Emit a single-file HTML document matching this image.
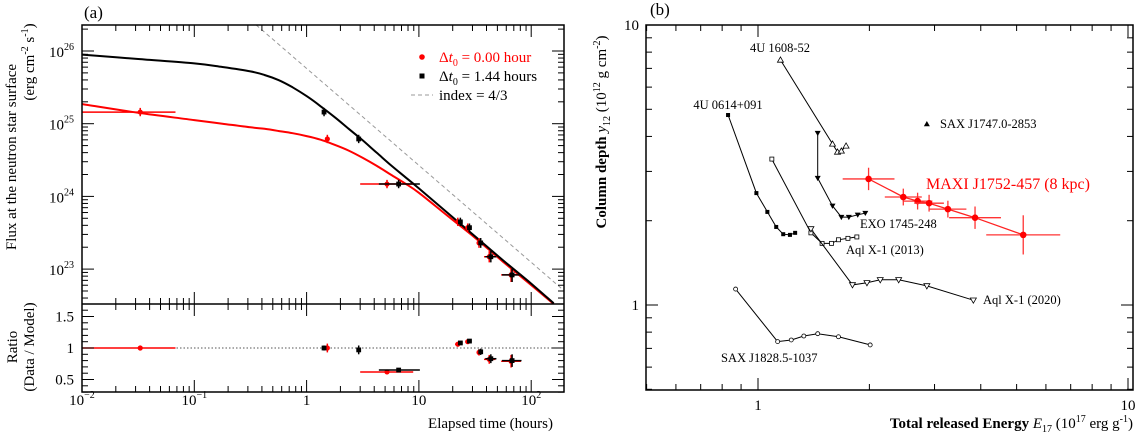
<!DOCTYPE html>
<html><head><meta charset="utf-8"><style>
html,body{margin:0;padding:0;background:#fff;}
svg, svg text{font-family:"Liberation Serif","DejaVu Serif",serif;}
svg{display:block;}
</style></head><body>
<svg id="fig" width="1140" height="435" viewBox="0 0 1140 435" xmlns="http://www.w3.org/2000/svg" font-family="Liberation Serif, DejaVu Serif, serif">
<g id="pa"></g>
<g id="pb"></g>
</svg>
<script>
// ---------- Panel (a) data ----------
const curveLogT = [-2, -1.5, -1, -0.75, -0.5, -0.375, -0.25, -0.125, 0, 0.125, 0.25, 0.375, 0.5, 0.625, 0.75, 0.875, 1, 1.25, 1.5, 1.75, 2, 2.2];
const curveBlack = [25.95, 25.89, 25.83, 25.78, 25.72, 25.67, 25.6, 25.5, 25.38, 25.24, 25.09, 24.93, 24.77, 24.6, 24.43, 24.27, 24.11, 23.78, 23.45, 23.12, 22.8, 22.53];
const curveRed = [25.27, 25.15, 25.05, 25.0, 24.95, 24.93, 24.9, 24.87, 24.83, 24.78, 24.71, 24.63, 24.53, 24.42, 24.3, 24.18, 24.05, 23.74, 23.43, 23.1, 22.78, 22.52];
const blackT = [1.43, 2.91, 6.6, 23.4, 28.2, 35.5, 43.7, 67.6];
const blackF = [25.16, 24.79, 24.17, 23.65, 23.57, 23.36, 23.17, 22.92];
const blackTlo = [1.43, 2.91, 4.4, 22.5, 27, 34, 39, 55];
const blackThi = [1.43, 2.91, 10.2, 24.5, 29.5, 37, 49, 82];
const blackRatio = [1.0, 0.97, 0.65, 1.08, 1.11, 0.94, 0.83, 0.80];
const redT = [0.033, 1.53, 5.2, 22.2, 27.2, 34.3, 42.3, 66.2];
const redF = [25.16, 24.79, 24.17, 23.65, 23.57, 23.36, 23.17, 22.92];
const redTlo = [0.01, 1.53, 3.0, 21, 26, 33, 38, 54];
const redThi = [0.068, 1.53, 8.9, 23, 28.5, 35.5, 48, 81];
const redRatio = [1.0, 1.0, 0.62, 1.06, 1.1, 0.93, 0.82, 0.79];
const fluxErr = [0.03, 0.03, 0.03, 0.03, 0.03, 0.04, 0.05, 0.07];
const ratioErr = [0.04, 0.07, 0.03, 0.03, 0.03, 0.05, 0.07, 0.1];
const xTicksA = ["10<tspan font-size='10' dy='-7'>−2</tspan>", "10<tspan font-size='10' dy='-7'>−1</tspan>", "1", "10", "10<tspan font-size='10' dy='-7'>2</tspan>"];
const yTicksA = [23, 24, 25, 26];
const rTicks = [0.5, 1, 1.5];

// ---------- Panel (b) data ----------
const maxiE = [1.99, 2.47, 2.70, 2.90, 3.26, 3.86, 5.21];
const maxiY = [2.82, 2.43, 2.35, 2.31, 2.20, 2.05, 1.78];
const maxiEerr = [0.07, 0.05, 0.04, 0.04, 0.05, 0.07, 0.1];
const maxiYerr = [0.04, 0.03, 0.03, 0.03, 0.03, 0.04, 0.07];
const s1608E = [1.15, 1.59, 1.64, 1.68, 1.73];
const s1608Y = [7.5, 3.76, 3.52, 3.55, 3.70];
const s0614E = [0.83, 0.99, 1.06, 1.12, 1.17, 1.22, 1.26];
const s0614Y = [4.77, 2.51, 2.15, 1.90, 1.79, 1.78, 1.81];
const exoE = [1.45, 1.45, 1.59, 1.68, 1.76, 1.86, 1.95];
const exoY = [4.11, 2.84, 2.26, 2.06, 2.06, 2.10, 2.13];
const aql13E = [1.09, 1.39, 1.49, 1.58, 1.65, 1.75, 1.85];
const aql13Y = [3.32, 1.81, 1.66, 1.66, 1.71, 1.73, 1.75];
const aql20E = [1.39, 1.80, 1.97, 2.14, 2.40, 2.86, 3.82];
const aql20Y = [1.87, 1.18, 1.20, 1.23, 1.23, 1.17, 1.04];
const s1828E = [0.87, 1.13, 1.23, 1.33, 1.45, 1.65, 2.01];
const s1828Y = [1.14, 0.74, 0.75, 0.775, 0.79, 0.77, 0.72];
const s1747E = [2.86];
const s1747Y = [4.43];

const NS = "http://www.w3.org/2000/svg";
function mk(parent, tag, attrs, name, text) {
  const e = document.createElementNS(NS, tag);
  for (const k in attrs) e.setAttribute(k, attrs[k]);
  
  
  if (text !== undefined) e.innerHTML = text;
  parent.appendChild(e);
  return e;
}
const L10 = Math.log10;

// ===== Panel A =====
const pa = document.getElementById('pa');
const AL = 82, AR = 564, AT = 25, AM = 304, AB = 392;
const xa = t => AL + (L10(t) + 2) * 112.3;
const xal = lt => AL + (lt + 2) * 112.3;
const ya = lf => 51 + (26 - lf) * 72.7;
const yr = r => 348 - (r - 1) * 63;

(function(){
  const lt0 = -0.45, lf0 = 26.36, lt1 = 2.29;
  mk(pa, 'line', {x1: xal(lt0), y1: ya(lf0), x2: xal(lt1), y2: ya(lf0 - 4/3*(lt1-lt0)), stroke:'#999', 'stroke-width':1, 'stroke-dasharray':'4,3'}, 'index-4-3-line');
})();
const clipA = mk(pa, 'clipPath', {id:'ca'}, 'clip-a');
mk(clipA, 'rect', {x:AL, y:AT, width:AR-AL, height:AM-AT}, 'clip-rect');
const gc = mk(pa, 'g', {'clip-path':'url(#ca)'}, 'model-curves');
function smoothPath(arr) {
  const P = arr.map((v, i) => [xal(curveLogT[i]), ya(v)]);
  let d = 'M' + P[0][0].toFixed(1) + ',' + P[0][1].toFixed(1);
  for (let i = 0; i < P.length - 1; i++) {
    const p0 = P[Math.max(0, i-1)], p1 = P[i], p2 = P[i+1], p3 = P[Math.min(P.length-1, i+2)];
    const c1 = [p1[0] + (p2[0]-p0[0])/6, p1[1] + (p2[1]-p0[1])/6];
    const c2 = [p2[0] - (p3[0]-p1[0])/6, p2[1] - (p3[1]-p1[1])/6];
    d += 'C' + c1.map(v=>v.toFixed(1)).join(',') + ' ' + c2.map(v=>v.toFixed(1)).join(',') + ' ' + p2.map(v=>v.toFixed(1)).join(',');
  }
  return d;
}
mk(gc, 'path', {d:smoothPath(curveRed), fill:'none', stroke:'#f00', 'stroke-width':2}, 'model-red');
mk(gc, 'path', {d:smoothPath(curveBlack), fill:'none', stroke:'#000', 'stroke-width':2}, 'model-black');
mk(pa, 'line', {x1:AL, y1:yr(1), x2:AR, y2:yr(1), stroke:'#555', 'stroke-width':1, 'stroke-dasharray':'1.5,2'}, 'ratio-unity-line');

function pts(T, F, lo, hi, color, shape, name, ratio) {
  T.forEach((t, i) => {
    const x = xa(t);
    const y = ratio ? yr(ratio[i]) : ya(F[i]);
    const ey = ratio ? ratioErr[i]*63 : fluxErr[i]*72.7 + 2;
    mk(pa, 'line', {x1:xa(lo[i]), y1:y, x2:xa(hi[i]), y2:y, stroke:color, 'stroke-width':1.5}, name + '-xerr');
    mk(pa, 'line', {x1:x, y1:y-ey, x2:x, y2:y+ey, stroke:color, 'stroke-width':1.5}, name + '-yerr');
    if (shape === 'c') mk(pa, 'circle', {cx:x, cy:y, r:2.6, fill:color}, name + '-point');
    else mk(pa, 'rect', {x:x-2.4, y:y-2.4, width:4.8, height:4.8, fill:color}, name + '-point');
  });
}
pts(redT, redF, redTlo, redThi, '#f00', 'c', 'red-flux');
pts(blackT, blackF, blackTlo, blackThi, '#000', 's', 'black-flux');
pts(redT, null, redTlo, redThi, '#f00', 'c', 'red-ratio', redRatio);
pts(blackT, null, blackTlo, blackThi, '#000', 's', 'black-ratio', blackRatio);

mk(pa, 'rect', {x:AL, y:AT, width:AR-AL, height:AB-AT, fill:'none', stroke:'#000', 'stroke-width':1.5}, 'frame-a');
mk(pa, 'line', {x1:AL, y1:AM, x2:AR, y2:AM, stroke:'#000', 'stroke-width':1.5}, 'panel-divider');
for (let dec = -2; dec <= 2; dec++) {
  for (let m = 1; m <= 9; m++) {
    const lt = dec + L10(m); if (lt > 2.29) break;
    const x = xal(lt), len = m === 1 ? 12 : 6;
    [[AT, 1], [AM, 1], [AM, -1], [AB, -1]].forEach(([y0, s]) => {
      mk(pa, 'line', {x1:x, y1:y0, x2:x, y2:y0 + s*len, stroke:'#000', 'stroke-width':1}, 'x-tick');
    });
  }
}
xTicksA.forEach((lab, i) => {
  mk(pa, 'text', {x:xal(i - 2), y:405, 'font-size':15, 'text-anchor':'middle'}, 'x-tick-label', lab);
});
for (let dec = 22; dec <= 26; dec++) {
  for (let m = 1; m <= 9; m++) {
    const lf = dec + L10(m); const y = ya(lf);
    if (y < AT || y > AM) continue;
    const len = m === 1 ? 12 : 6;
    mk(pa, 'line', {x1:AL, y1:y, x2:AL+len, y2:y, stroke:'#000'}, 'y-tick');
    mk(pa, 'line', {x1:AR, y1:y, x2:AR-len, y2:y, stroke:'#000'}, 'y-tick');
  }
}
yTicksA.forEach(v => {
  mk(pa, 'text', {x:74, y:ya(v)+6, 'font-size':15, 'text-anchor':'end'}, 'y-tick-label', "10<tspan font-size='10' dy='-7'>" + v + "</tspan>");
});
for (let r = 0.3; r <= 1.65; r += 0.1) {
  const y = yr(r); const maj = Math.abs(r*2 - Math.round(r*2)) < 0.01;
  const len = maj ? 12 : 6;
  mk(pa, 'line', {x1:AL, y1:y, x2:AL+len, y2:y, stroke:'#000'}, 'ratio-tick');
  mk(pa, 'line', {x1:AR, y1:y, x2:AR-len, y2:y, stroke:'#000'}, 'ratio-tick');
}
rTicks.forEach(v => mk(pa, 'text', {x:74, y:yr(v)+5, 'font-size':15, 'text-anchor':'end'}, 'ratio-tick-label', String(v)));
mk(pa, 'text', {x:84, y:18, 'font-size':17}, 'panel-a-title', '(a)');
mk(pa, 'text', {x:553, y:428, 'font-size':15, 'text-anchor':'end'}, 'x-axis-title', 'Elapsed time (hours)');
mk(pa, 'text', {transform:'translate(16,157) rotate(-90)', 'font-size':15, 'text-anchor':'middle'}, 'y-axis-title', 'Flux at the neutron star surface');
mk(pa, 'text', {transform:'translate(34,62) rotate(-90)', 'font-size':15, 'text-anchor':'middle'}, 'y-axis-units', "(erg cm<tspan font-size='10' dy='-6'>-2</tspan><tspan dy='6'> s</tspan><tspan font-size='10' dy='-6'>-1</tspan><tspan dy='6'>)</tspan>");
mk(pa, 'text', {transform:'translate(17,347) rotate(-90)', 'font-size':15, 'text-anchor':'middle'}, 'ratio-axis-title', 'Ratio');
mk(pa, 'text', {transform:'translate(34,347) rotate(-90)', 'font-size':15, 'text-anchor':'middle'}, 'ratio-axis-units', '(Data / Model)');
mk(pa, 'circle', {cx:422, cy:57, r:2.8, fill:'#f00'}, 'legend-red-marker');
mk(pa, 'text', {x:439, y:62, 'font-size':15, fill:'#f00'}, 'legend-red-label', "Δ<tspan font-style='italic'>t</tspan><tspan font-size='10' dy='4'>0</tspan><tspan dy='-4'> = 0.00 hour</tspan>");
mk(pa, 'rect', {x:419.5, y:73.5, width:5, height:5, fill:'#000'}, 'legend-black-marker');
mk(pa, 'text', {x:439, y:81, 'font-size':15}, 'legend-black-label', "Δ<tspan font-style='italic'>t</tspan><tspan font-size='10' dy='4'>0</tspan><tspan dy='-4'> = 1.44 hours</tspan>");
mk(pa, 'line', {x1:411, y1:95, x2:433, y2:95, stroke:'#999', 'stroke-dasharray':'4,3'}, 'legend-index-line');
mk(pa, 'text', {x:439, y:100, 'font-size':15}, 'legend-index-label', 'index = 4/3');

// ===== Panel B =====
const pb = document.getElementById('pb');
const BL = 646, BR = 1133, BT = 25, BB = 390;
const xb = v => 758 + L10(v) * 370;
const yb = v => 305 - L10(v) * 280;
function series(E, Y, marker, name) {
  let d = '';
  E.forEach((e, i) => { d += (i ? 'L' : 'M') + xb(e).toFixed(1) + ',' + yb(Y[i]).toFixed(1); });
  if (E.length > 1) mk(pb, 'path', {d, fill:'none', stroke:'#000', 'stroke-width':1}, name + '-line');
  E.forEach((e, i) => {
    const x = xb(e), y = yb(Y[i]);
    if (marker === 'sq') mk(pb, 'rect', {x:x-2, y:y-2, width:4, height:4, fill:'#000'}, name + '-point');
    else if (marker === 'osq') mk(pb, 'rect', {x:x-2, y:y-2, width:4, height:4, fill:'#fff', stroke:'#000', 'stroke-width':0.8}, name + '-point');
    else if (marker === 'otri') mk(pb, 'path', {d:`M${x},${y-3}L${x+3},${y+2.2}L${x-3},${y+2.2}Z`, fill:'#fff', stroke:'#000', 'stroke-width':0.8}, name + '-point');
    else if (marker === 'tri') mk(pb, 'path', {d:`M${x},${y-3}L${x+3},${y+2.2}L${x-3},${y+2.2}Z`, fill:'#000'}, name + '-point');
    else if (marker === 'dtri') mk(pb, 'path', {d:`M${x},${y+3}L${x+3},${y-2.2}L${x-3},${y-2.2}Z`, fill:'#000'}, name + '-point');
    else if (marker === 'odtri') mk(pb, 'path', {d:`M${x},${y+3}L${x+3},${y-2.2}L${x-3},${y-2.2}Z`, fill:'#fff', stroke:'#000', 'stroke-width':0.8}, name + '-point');
    else if (marker === 'oc') mk(pb, 'circle', {cx:x, cy:y, r:2, fill:'#fff', stroke:'#000', 'stroke-width':0.8}, name + '-point');
  });
}
series(s1608E, s1608Y, 'otri', '4u1608');
series(s0614E, s0614Y, 'sq', '4u0614');
series(exoE, exoY, 'dtri', 'exo1745');
series(aql13E, aql13Y, 'osq', 'aql2013');
series(aql20E, aql20Y, 'odtri', 'aql2020');
series(s1828E, s1828Y, 'oc', 'sax1828');
series(s1747E, s1747Y, 'tri', 'sax1747');
(function(){
  let d = '';
  maxiE.forEach((e, i) => { d += (i ? 'L' : 'M') + xb(e).toFixed(1) + ',' + yb(maxiY[i]).toFixed(1); });
  mk(pb, 'path', {d, fill:'none', stroke:'#f22', 'stroke-width':1.3}, 'maxi-line');
  maxiE.forEach((e, i) => {
    const x = xb(e), y = yb(maxiY[i]);
    mk(pb, 'line', {x1:xb(e*Math.pow(10,-maxiEerr[i])), y1:y, x2:xb(e*Math.pow(10,maxiEerr[i])), y2:y, stroke:'#f33', 'stroke-width':1.3}, 'maxi-xerr');
    mk(pb, 'line', {x1:x, y1:yb(maxiY[i]*Math.pow(10,maxiYerr[i])), x2:x, y2:yb(maxiY[i]*Math.pow(10,-maxiYerr[i])), stroke:'#f33', 'stroke-width':1.3}, 'maxi-yerr');
    mk(pb, 'circle', {cx:x, cy:y, r:3.3, fill:'#f00'}, 'maxi-point');
  });
})();
mk(pb, 'rect', {x:BL, y:BT, width:BR-BL, height:BB-BT, fill:'none', stroke:'#000', 'stroke-width':1.5}, 'frame-b');
for (let dec = -1; dec <= 1; dec++) {
  for (let m = 1; m <= 9; m++) {
    const v = m * Math.pow(10, dec); const x = xb(v);
    if (x < BL - 0.5 || x > BR + 0.5) continue;
    const len = m === 1 ? 12 : 6;
    mk(pb, 'line', {x1:x, y1:BB, x2:x, y2:BB-len, stroke:'#000'}, 'x-tick-b');
    mk(pb, 'line', {x1:x, y1:BT, x2:x, y2:BT+len, stroke:'#000'}, 'x-tick-b');
  }
}
for (let dec = -1; dec <= 1; dec++) {
  for (let m = 1; m <= 9; m++) {
    const v = m * Math.pow(10, dec); const y = yb(v);
    if (y < BT - 0.5 || y > BB + 0.5) continue;
    const len = m === 1 ? 12 : 6;
    mk(pb, 'line', {x1:BL, y1:y, x2:BL+len, y2:y, stroke:'#000'}, 'y-tick-b');
    mk(pb, 'line', {x1:BR, y1:y, x2:BR-len, y2:y, stroke:'#000'}, 'y-tick-b');
  }
}
mk(pb, 'text', {x:xb(1), y:410, 'font-size':15, 'text-anchor':'middle'}, 'x-tick-label-b', '1');
mk(pb, 'text', {x:xb(10), y:410, 'font-size':15, 'text-anchor':'middle'}, 'x-tick-label-b', '10');
mk(pb, 'text', {x:639, y:yb(1)+5, 'font-size':15, 'text-anchor':'end'}, 'y-tick-label-b', '1');
mk(pb, 'text', {x:639, y:yb(10)+5, 'font-size':15, 'text-anchor':'end'}, 'y-tick-label-b', '10');
mk(pb, 'text', {x:650, y:15, 'font-size':17}, 'panel-b-title', '(b)');
mk(pb, 'text', {x:1133, y:428, 'font-size':15, 'text-anchor':'end', 'font-weight':'bold'}, 'x-axis-title-b', "Total released Energy  <tspan font-style='italic' font-weight='normal'>E</tspan><tspan font-size='10' dy='4' font-weight='normal'>17</tspan><tspan dy='-4' font-weight='normal'> (10</tspan><tspan font-size='10' dy='-6' font-weight='normal'>17</tspan><tspan dy='6' font-weight='normal'> erg g</tspan><tspan font-size='10' dy='-6' font-weight='normal'>-1</tspan><tspan dy='6' font-weight='normal'>)</tspan>");
mk(pb, 'text', {transform:'translate(606,132) rotate(-90)', 'font-size':15, 'text-anchor':'middle', 'font-weight':'bold'}, 'y-axis-title-b', "Column depth  <tspan font-style='italic' font-weight='normal'>y</tspan><tspan font-size='10' dy='4' font-weight='normal'>12</tspan><tspan dy='-4' font-weight='normal'> (10</tspan><tspan font-size='10' dy='-6' font-weight='normal'>12</tspan><tspan dy='6' font-weight='normal'> g cm</tspan><tspan font-size='10' dy='-6' font-weight='normal'>-2</tspan><tspan dy='6' font-weight='normal'>)</tspan>");
const lbl = [["4U 1608-52",780,52,'middle'],["4U 0614+091",728,109,'middle'],["SAX J1747.0-2853",940,128,'start'],["EXO 1745-248",860,228,'start'],["Aql X-1 (2013)",846,254,'start'],["Aql X-1 (2020)",983,304,'start'],["SAX J1828.5-1037",721,362,'start']];
lbl.forEach(l => mk(pb, 'text', {x:l[1], y:l[2], 'font-size':12.5, 'text-anchor':l[3]}, 'source-label', l[0]));
mk(pb, 'text', {x:926, y:189, 'font-size':16, fill:'#f00'}, 'maxi-label', 'MAXI J1752-457 (8 kpc)');
</script>
</body></html>
